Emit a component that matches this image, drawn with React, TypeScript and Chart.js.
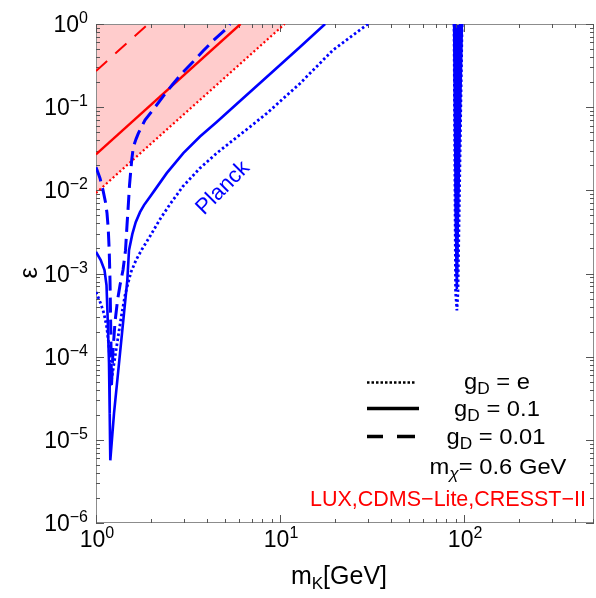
import React, { useEffect, useRef } from "react";
import { Chart, registerables } from "chart.js";

Chart.register(...registerables);

const FONT = '"Liberation Sans", Arial, Helvetica, sans-serif';

// ---- Data: x = m_K [GeV], y = epsilon ----
// Planck, g_D = e (dotted blue)
const dottedMass = [1.0, 1.0606, 1.1052, 1.1433, 1.1767, 1.1915, 1.2019, 1.2846, 1.3673, 1.4377, 1.4927, 1.5496, 1.6499, 1.7783, 1.966, 2.228, 2.525, 2.971, 3.674, 4.529, 6.871, 8.47, 12.84, 19.41, 30.08];
const dottedEps = [6.0e-4, 4.36e-4, 3.3e-4, 2.28e-4, 1.31e-4, 7.5e-5, 4.53e-5, 1.19e-4, 2.9e-4, 5.48e-4, 7.64e-4, 1.04e-3, 1.45e-3, 1.96e-3, 2.81e-3, 4.5e-3, 6.82e-3, 1.12e-2, 1.85e-2, 2.8e-2, 5.81e-2, 8.42e-2, 0.193, 0.487, 1.0];
// Planck, g_D = 0.1 (solid blue)
const solidMass = [1.0, 1.0606, 1.1122, 1.1404, 1.1548, 1.1767, 1.187, 1.196, 1.2528, 1.3335, 1.4199, 1.4797, 1.5114, 1.5751, 1.6436, 1.7344, 1.8235, 1.966, 2.0665, 2.4225, 2.982, 3.674, 4.529, 5.934, 8.826, 12.84, 17.57];
const solidEps = [1.82e-3, 1.45e-3, 1.1e-3, 7.23e-4, 3.33e-4, 8.33e-5, 2.08e-5, 5.67e-6, 2.08e-5, 8.33e-5, 3.33e-4, 8.3e-4, 1.91e-3, 2.97e-3, 4.14e-3, 5.47e-3, 6.64e-3, 8.4e-3, 9.78e-3, 1.61e-2, 2.8e-2, 4.43e-2, 6.62e-2, 0.1136, 0.25, 0.529, 1.0];
// Planck, g_D = 0.01 (dashed blue)
const dashedMass = [1.0, 1.0513, 1.0915, 1.1261, 1.1475, 1.165, 1.1797, 1.1915, 1.2032, 1.214, 1.2372, 1.2684, 1.3089, 1.3502, 1.402, 1.4467, 1.474, 1.498, 1.521, 1.563, 1.595, 1.65, 1.698, 1.846, 2.093, 2.322, 2.579, 2.922, 3.38, 3.815, 4.34, 5.024, 5.35];
const dashedEps = [1.9e-2, 1.4e-2, 1.005e-2, 7.21e-3, 5.32e-3, 3.51e-3, 1.91e-3, 8.3e-4, 2.08e-4, 4.53e-5, 1.19e-4, 2.59e-4, 4.77e-4, 7.23e-4, 1.1e-3, 1.91e-3, 3.81e-3, 6.64e-3, 1.155e-2, 2.31e-2, 3.31e-2, 4.13e-2, 4.84e-2, 7.0e-2, 0.1, 0.136, 0.182, 0.254, 0.354, 0.473, 0.633, 0.847, 1.0];
// Z-resonance dips
const dottedZMass = [88.2, 89.9, 91.4, 92.6, 97.5];
const dottedZEps = [1.0, 6.0e-4, 3.6e-4, 6.0e-4, 1.0];
const solidZMass = [88.3, 90.2, 91.3, 92.6, 97.3];
const solidZEps = [1.0, 5.0e-3, 6.5e-4, 5.0e-3, 1.0];
const dashedZMass = [89.0, 90.6, 91.3, 92.2, 95.5];
const dashedZEps = [1.0, 5.0e-3, 1.0e-3, 5.0e-3, 1.0];
// LUX, CDMS-Lite, CRESST-II bounds (red)
const luxDottedMass = [1.0, 10.6];
const luxDottedEps = [0.0093, 1.0];
const luxSolidMass = [1.0, 6.1];
const luxSolidEps = [0.027, 1.0];
const luxDashedMass = [1.0, 1.92];
const luxDashedEps = [0.272, 1.0];

// Axis ranges and tick labels
const xMin = 1;
const xMax = 508;
const yMin = 1e-6;
const yMax = 1;
const xTickValues = [1, 10, 100];
const xTickExponents = ["0", "1", "2"];
const yTickValues = [1, 1e-1, 1e-2, 1e-3, 1e-4, 1e-5, 1e-6];
const yTickExponents = ["0", "\u22121", "\u22122", "\u22123", "\u22124", "\u22125", "\u22126"];

const BLUE = "#0000ff";
const RED = "#ff0000";

const pts = (xs: number[], ys: number[]) => xs.map((x, i) => ({ x, y: ys[i] }));

type Part = { t: string; size: number; dy: number; italic?: boolean };

function drawParts(ctx: CanvasRenderingContext2D, parts: Part[], x: number, y: number, align: "left" | "center" | "right", color: string, sx = 1) {
  const widths = parts.map((p) => {
    ctx.font = `${p.italic ? "italic " : ""}${p.size}px ${FONT}`;
    return ctx.measureText(p.t).width * sx;
  });
  const total = widths.reduce((a, b) => a + b, 0);
  let cx = align === "left" ? x : align === "center" ? x - total / 2 : x - total;
  ctx.fillStyle = color;
  ctx.textAlign = "left";
  ctx.textBaseline = "alphabetic";
  parts.forEach((p, i) => {
    ctx.font = `${p.italic ? "italic " : ""}${p.size}px ${FONT}`;
    ctx.save();
    ctx.translate(cx, y + p.dy);
    ctx.scale(sx, 1);
    ctx.fillText(p.t, 0, 0);
    ctx.restore();
    cx += widths[i];
  });
}

const framePlugin = {
  id: "frameAxes",
  beforeDatasetsDraw(chart: any) {
    const { ctx, chartArea: a, scales } = chart;
    const xs = scales.x;
    const ys = scales.y;
    ctx.save();
    ctx.strokeStyle = "#8c8c8c";
    ctx.lineWidth = 1;
    ctx.strokeRect(Math.round(a.left) + 0.5, Math.round(a.top) + 0.5, Math.round(a.right - a.left) - 1, Math.round(a.bottom - a.top) - 1);
    ctx.strokeStyle = "#555";
    ctx.beginPath();
    for (let e = 0; e <= 2; e++) {
      for (let k = 1; k <= 9; k++) {
        const v = k * Math.pow(10, e);
        if (v < xMin || v > xMax) continue;
        const px = Math.round(xs.getPixelForValue(v)) + 0.5;
        const len = k === 1 ? 8 : 4;
        ctx.moveTo(px, a.bottom);
        ctx.lineTo(px, a.bottom - len);
        ctx.moveTo(px, a.top);
        ctx.lineTo(px, a.top + len);
      }
    }
    for (let e = -6; e <= 0; e++) {
      for (let k = 1; k <= 9; k++) {
        const v = k * Math.pow(10, e);
        if (v < yMin * 0.999 || v > yMax * 1.001) continue;
        const py = Math.round(ys.getPixelForValue(v)) + 0.5;
        const len = k === 1 ? 8 : 4;
        ctx.moveTo(a.left, py);
        ctx.lineTo(a.left + len, py);
        ctx.moveTo(a.right, py);
        ctx.lineTo(a.right - len, py);
      }
    }
    ctx.stroke();

    xTickValues.forEach((v, i) => {
      const px = xs.getPixelForValue(v);
      drawParts(ctx, [
        { t: "10", size: 23, dy: 0 },
        { t: xTickExponents[i], size: 16, dy: -9 },
      ], px + 1, 547, "center", "#000");
    });
    yTickValues.forEach((v, i) => {
      const py = ys.getPixelForValue(v);
      drawParts(ctx, [
        { t: "10", size: 23, dy: 0 },
        { t: yTickExponents[i], size: 16, dy: -9 },
      ], 88, py + 8, "right", "#000");
    });

    drawParts(ctx, [
      { t: "m", size: 25, dy: 0 },
      { t: "K", size: 17, dy: 5 },
      { t: "[GeV]", size: 25, dy: 0 },
    ], 339, 584, "center", "#000");
    ctx.save();
    ctx.translate(30, 273);
    ctx.rotate(-Math.PI / 2);
    ctx.font = `25px ${FONT}`;
    ctx.fillStyle = "#000";
    ctx.textAlign = "center";
    ctx.textBaseline = "middle";
    ctx.fillText("\u03b5", 0, 0);
    ctx.restore();
    ctx.restore();
  },
  afterDatasetsDraw(chart: any) {
    const { ctx } = chart;
    ctx.save();
    ctx.save();
    ctx.translate(223, 188);
    ctx.rotate(-Math.PI / 4);
    ctx.font = `22px ${FONT}`;
    ctx.fillStyle = BLUE;
    ctx.textAlign = "center";
    ctx.textBaseline = "middle";
    ctx.fillText("Planck", 0, 0);
    ctx.restore();

    ctx.strokeStyle = "#000";
    ctx.lineCap = "butt";
    ctx.lineWidth = 2.5;
    ctx.setLineDash([2.5, 2]);
    ctx.beginPath();
    ctx.moveTo(367, 382.5);
    ctx.lineTo(415, 382.5);
    ctx.stroke();
    ctx.setLineDash([]);
    ctx.lineWidth = 3.5;
    ctx.beginPath();
    ctx.moveTo(367, 408.5);
    ctx.lineTo(419, 408.5);
    ctx.stroke();
    ctx.beginPath();
    ctx.moveTo(367, 436.5);
    ctx.lineTo(383, 436.5);
    ctx.moveTo(397, 436.5);
    ctx.lineTo(415, 436.5);
    ctx.stroke();

    drawParts(ctx, [{ t: "g", size: 22, dy: 0 }, { t: "D", size: 16, dy: 5 }, { t: " = e", size: 22, dy: 0 }], 497, 389, "center", "#000", 1.08);
    drawParts(ctx, [{ t: "g", size: 22, dy: 0 }, { t: "D", size: 16, dy: 5 }, { t: " = 0.1", size: 22, dy: 0 }], 497, 416, "center", "#000", 1.08);
    drawParts(ctx, [{ t: "g", size: 22, dy: 0 }, { t: "D", size: 16, dy: 5 }, { t: " = 0.01", size: 22, dy: 0 }], 496, 444, "center", "#000", 1.08);
    drawParts(ctx, [{ t: "m", size: 22, dy: 0 }, { t: "\u03c7", size: 16, dy: 5, italic: true }, { t: "= 0.6 GeV", size: 22, dy: 0 }], 498, 474, "center", "#000", 1.08);
    drawParts(ctx, [{ t: "LUX,CDMS\u2212Lite,CRESST\u2212II", size: 21.5, dy: 0 }], 586, 506, "right", RED);
    ctx.restore();
  },
};

export default function App() {
  const ref = useRef<HTMLCanvasElement>(null);
  useEffect(() => {
    const canvas = ref.current;
    if (!canvas) return;
    const blueDotted = { borderColor: BLUE, borderWidth: 2.8, borderDash: [2.5, 2.5], borderCapStyle: "butt" };
    const blueSolid = { borderColor: BLUE, borderWidth: 2.6, borderDash: [] };
    const blueDashed = { borderColor: BLUE, borderWidth: 3, borderDash: [15, 7], borderCapStyle: "butt" };
    const chart = new Chart(canvas, {
      type: "line",
      data: {
        datasets: [
          { label: "g_D = e", data: pts(dottedMass, dottedEps), ...blueDotted, fill: false },
          { label: "g_D = 0.1", data: pts(solidMass, solidEps), ...blueSolid, fill: false },
          { label: "g_D = 0.01", data: pts(dashedMass, dashedEps), ...blueDashed, fill: false },
          { label: "Z dotted", data: pts(dottedZMass, dottedZEps), ...blueDotted, fill: false },
          { label: "Z solid", data: pts(solidZMass, solidZEps), ...blueSolid, fill: "end", backgroundColor: BLUE },
          { label: "Z dashed", data: pts(dashedZMass, dashedZEps), ...blueDashed, fill: false },
          { label: "LUX solid", data: pts(luxSolidMass, luxSolidEps), borderColor: RED, borderWidth: 2.4, fill: false },
          { label: "LUX dashed", data: pts(luxDashedMass, luxDashedEps), borderColor: RED, borderWidth: 2, borderDash: [15, 11], fill: false },
          {
            label: "LUX,CDMS-Lite,CRESST-II",
            data: pts(luxDottedMass, luxDottedEps),
            borderColor: RED,
            borderWidth: 2.2,
            borderDash: [2, 2.5],
            borderCapStyle: "butt",
            fill: "end",
            backgroundColor: "rgba(255,0,0,0.2)",
          },
        ] as any,
      },
      options: {
        animation: false,
        responsive: false,
        devicePixelRatio: 1,
        layout: { padding: { left: 96, right: 2, top: 24, bottom: 75 } },
        elements: { point: { radius: 0, hoverRadius: 0 }, line: { tension: 0 } },
        scales: {
          x: { type: "logarithmic", min: xMin, max: xMax, display: false },
          y: { type: "logarithmic", min: yMin, max: yMax, display: false },
        },
        plugins: {
          legend: { display: false },
          tooltip: { enabled: false },
          filler: { drawTime: "beforeDatasetsDraw" },
        },
        events: [],
      } as any,
      plugins: [framePlugin],
    });
    return () => chart.destroy();
  }, []);
  return (
    <div style={{ position: "absolute", left: 0, top: 0, width: 596, height: 598, background: "#fff" }}>
      <canvas ref={ref} width={596} height={598} style={{ display: "block", width: 596, height: 598 }} />
    </div>
  );
}
